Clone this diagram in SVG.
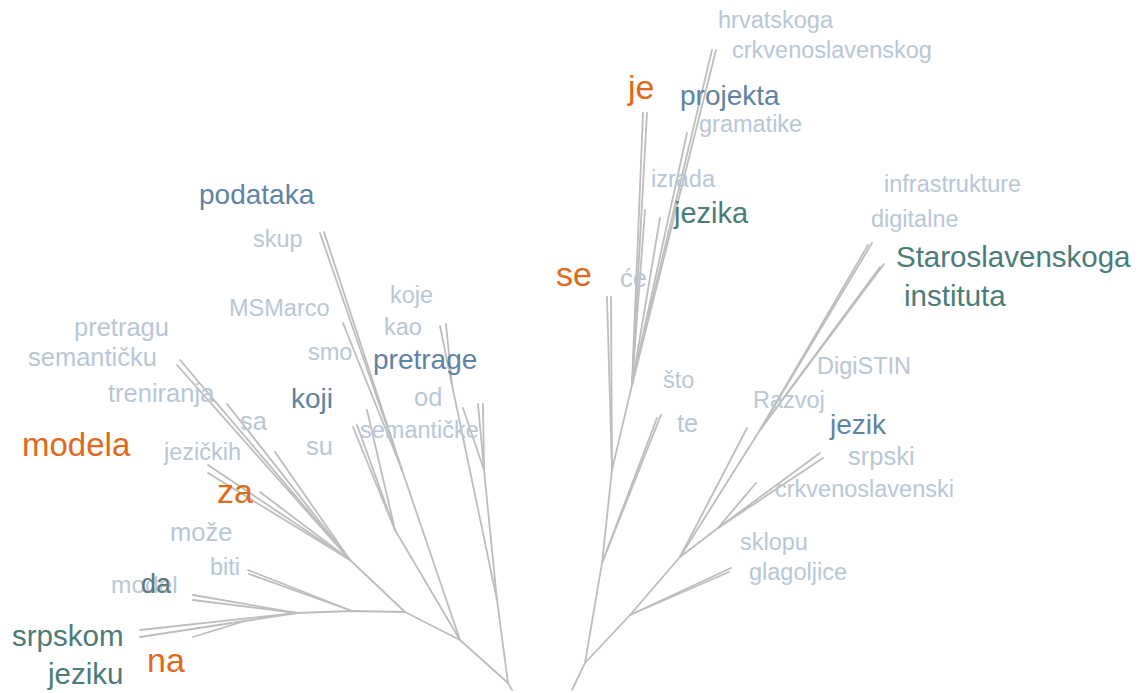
<svg xmlns="http://www.w3.org/2000/svg" width="1144" height="693" viewBox="0 0 1144 693">
<style>
.e{stroke:#bdbdbd;stroke-width:1.8;fill:none;stroke-linecap:round}
text{font-family:"Liberation Sans",Arial,sans-serif}
.l{fill:#b9c7d5;font-size:23.5px}
.lm{fill:#b9c7d5;font-size:25.5px}
.o{fill:#e06a1b;font-size:34px}
.b{fill:#5f83a4;font-size:28px}
.t{fill:#4a7c78;font-size:29.5px}
</style>
<rect width="1144" height="693" fill="#ffffff"/>
<g id="connectors">
<!-- left tree -->
<polyline class="e" points="512,690 508,683 497,600"/>
<polyline class="e" points="497,600 452,385 440,326"/>
<line class="e" x1="452" y1="385" x2="446" y2="324"/>
<polyline class="e" points="497,600 484,470 478,404"/>
<line class="e" x1="484" y1="470" x2="483" y2="404"/>
<line class="e" x1="484" y1="470" x2="463" y2="408"/>
<line class="e" x1="508" y1="683" x2="460" y2="640"/>
<polyline class="e" points="460,640 402,470 320,233"/>
<line class="e" x1="402" y1="470" x2="324" y2="232"/>
<line class="e" x1="402" y1="470" x2="343" y2="323"/>
<polyline class="e" points="460,640 395,530 367,410"/>
<line class="e" x1="395" y1="530" x2="353" y2="427"/>
<line class="e" x1="395" y1="530" x2="357" y2="425"/>
<line class="e" x1="460" y1="640" x2="405" y2="612"/>
<polyline class="e" points="405,612 352,611 297,613"/>
<line class="e" x1="352" y1="611" x2="248" y2="570"/>
<line class="e" x1="352" y1="611" x2="249" y2="574"/>
<line class="e" x1="297" y1="613" x2="193" y2="595"/>
<line class="e" x1="297" y1="613" x2="193" y2="600"/>
<line class="e" x1="297" y1="613" x2="140" y2="630"/>
<polyline class="e" points="297,613 245,621 140,637"/>
<line class="e" x1="245" y1="621" x2="193" y2="637"/>
<line class="e" x1="405" y1="612" x2="350" y2="560"/>
<line class="e" x1="350" y1="560" x2="180" y2="360"/>
<line class="e" x1="350" y1="560" x2="177" y2="365"/>
<line class="e" x1="350" y1="560" x2="227" y2="404"/>
<line class="e" x1="350" y1="560" x2="275" y2="452"/>
<line class="e" x1="350" y1="560" x2="260" y2="492"/>
<line class="e" x1="350" y1="560" x2="208" y2="465"/>
<line class="e" x1="350" y1="560" x2="208" y2="473"/>
<!-- right tree -->
<polyline class="e" points="572,690 585,663 602,563 612,470 632,385"/>
<line class="e" x1="602" y1="563" x2="657" y2="418"/>
<line class="e" x1="602" y1="563" x2="661" y2="415"/>
<line class="e" x1="612" y1="470" x2="607" y2="297"/>
<line class="e" x1="612" y1="470" x2="611" y2="297"/>
<line class="e" x1="632" y1="385" x2="643" y2="113"/>
<line class="e" x1="632" y1="385" x2="647" y2="113"/>
<line class="e" x1="632" y1="385" x2="645" y2="210"/>
<line class="e" x1="632" y1="385" x2="660" y2="218"/>
<line class="e" x1="632" y1="385" x2="687" y2="133"/>
<line class="e" x1="632" y1="385" x2="712" y2="50"/>
<line class="e" x1="632" y1="385" x2="716" y2="50"/>
<polyline class="e" points="585,663 630,615 680,557"/>
<line class="e" x1="630" y1="615" x2="731" y2="568"/>
<line class="e" x1="630" y1="615" x2="729" y2="572"/>
<line class="e" x1="680" y1="557" x2="747" y2="428"/>
<line class="e" x1="680" y1="557" x2="760" y2="430"/>
<line class="e" x1="760" y1="430" x2="868" y2="245"/>
<line class="e" x1="760" y1="430" x2="872" y2="243"/>
<line class="e" x1="760" y1="430" x2="880" y2="267"/>
<line class="e" x1="760" y1="430" x2="884" y2="264"/>
<line class="e" x1="680" y1="557" x2="718" y2="528"/>
<line class="e" x1="718" y1="528" x2="820" y2="453"/>
<line class="e" x1="718" y1="528" x2="823" y2="458"/>
<line class="e" x1="718" y1="528" x2="756" y2="483"/>
</g>
<g id="n-hrvatskoga"><text class="l" x="718" y="28">hrvatskoga</text></g>
<g id="n-crkvenoslavenskog"><text class="l" x="732" y="58">crkvenoslavenskog</text></g>
<g id="n-je"><text class="o" x="628" y="99">je</text></g>
<g id="n-projekta"><text class="b" x="680" y="105">projekta</text></g>
<g id="n-gramatike"><text class="l" x="699" y="132">gramatike</text></g>
<g id="n-izrada"><text class="l" x="651" y="187">izrada</text></g>
<g id="n-jezika"><text class="t" x="674" y="223" style="font-size:29px">jezika</text></g>
<g id="n-se"><text class="o" x="556" y="286">se</text></g>
<g id="n-ce"><text class="lm" x="620" y="287">će</text></g>
<g id="n-infrastrukture"><text class="l" x="884" y="192">infrastrukture</text></g>
<g id="n-digitalne"><text class="l" x="871" y="227">digitalne</text></g>
<g id="n-staroslavenskoga"><text class="t" x="896" y="267">Staroslavenskoga</text></g>
<g id="n-instituta"><text class="t" x="904" y="306">instituta</text></g>
<g id="n-digistin"><text class="l" x="817" y="374">DigiSTIN</text></g>
<g id="n-sto"><text class="l" x="663" y="388">što</text></g>
<g id="n-razvoj"><text class="l" x="753" y="408">Razvoj</text></g>
<g id="n-te"><text class="lm" x="677" y="432">te</text></g>
<g id="n-jezik"><text class="b" x="830" y="434">jezik</text></g>
<g id="n-srpski"><text class="lm" x="848" y="465">srpski</text></g>
<g id="n-crkvenoslavenski"><text class="l" x="775" y="497">crkvenoslavenski</text></g>
<g id="n-sklopu"><text class="l" x="740" y="550">sklopu</text></g>
<g id="n-glagoljice"><text class="l" x="749" y="580">glagoljice</text></g>
<g id="n-podataka"><text class="b" x="199" y="204">podataka</text></g>
<g id="n-skup"><text class="l" x="253" y="247">skup</text></g>
<g id="n-msmarco"><text class="l" x="229" y="316">MSMarco</text></g>
<g id="n-koje"><text class="l" x="390" y="303">koje</text></g>
<g id="n-kao"><text class="l" x="384" y="335">kao</text></g>
<g id="n-pretragu"><text class="lm" x="74" y="336">pretragu</text></g>
<g id="n-semanticku"><text class="lm" x="28" y="366">semantičku</text></g>
<g id="n-smo"><text class="l" x="308" y="360">smo</text></g>
<g id="n-pretrage"><text class="b" x="373" y="369">pretrage</text></g>
<g id="n-koji"><text class="b" x="291" y="408">koji</text></g>
<g id="n-treniranja"><text class="lm" x="108" y="402">treniranja</text></g>
<g id="n-od"><text class="lm" x="414" y="406">od</text></g>
<g id="n-sa"><text class="lm" x="240" y="430">sa</text></g>
<g id="n-semanticke"><text class="l" x="360" y="438">semantičke</text></g>
<g id="n-su"><text class="lm" x="306" y="455">su</text></g>
<g id="n-modela"><text class="o" x="22" y="456" style="font-size:33px">modela</text></g>
<g id="n-jezickih"><text class="l" x="164" y="460">jezičkih</text></g>
<g id="n-za"><text class="o" x="217" y="503">za</text></g>
<g id="n-moze"><text class="lm" x="170" y="541">može</text></g>
<g id="n-biti"><text class="l" x="210" y="575">biti</text></g>
<g id="n-model"><text class="lm" x="111" y="593" style="font-size:24.5px">model</text></g>
<g id="n-da"><text x="141" y="593" style="fill:#5c7a80;font-size:27px">da</text></g>
<g id="n-srpskom"><text class="t" x="12" y="646">srpskom</text></g>
<g id="n-na"><text class="o" x="147" y="672">na</text></g>
<g id="n-jeziku"><text class="t" x="48" y="684">jeziku</text></g>
</svg>
